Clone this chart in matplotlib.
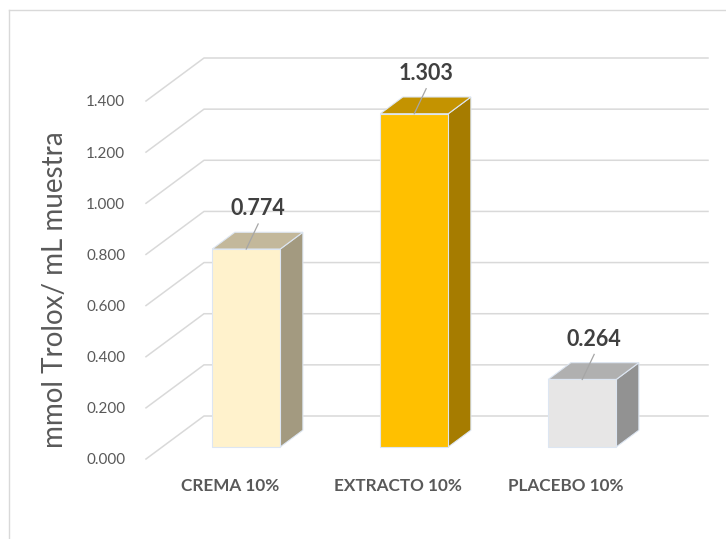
import matplotlib
matplotlib.use("Agg")
import matplotlib.pyplot as plt
from matplotlib.patches import Polygon, Rectangle
from matplotlib.lines import Line2D

# ---- data ----
categories = ["CREMA 10%", "EXTRACTO 10%", "PLACEBO 10%"]
values = [0.774, 1.303, 0.264]
value_labels = ["0.774", "1.303", "0.264"]
yticks = [0.0, 0.2, 0.4, 0.6, 0.8, 1.0, 1.2, 1.4]
ytick_labels = ["0.000", "0.200", "0.400", "0.600", "0.800", "1.000", "1.200", "1.400"]
ylabel = "mmol Trolox/ mL muestra"

front_colors = ["#FFF2CC", "#FFC000", "#E7E6E6"]
top_colors = ["#C3B89B", "#C49300", "#B0B0B0"]
side_colors = ["#A39A80", "#A67C00", "#929292"]

plt.rcParams['font.family'] = ['Lato', 'DejaVu Sans']

W, H = 726, 539
fig = plt.figure(figsize=(W / 100, H / 100), dpi=100)
fig.patch.set_facecolor("white")

# front plane of the 3D box in pixels
fx0, fx1 = 146, 650
fy0, fy1 = 459, 101
ax = fig.add_axes([fx0 / W, 1 - fy0 / H, (fx1 - fx0) / W, (fy0 - fy1) / H])
ax.set_xlim(-0.5, 2.5)
ax.set_ylim(0, 1.4)
for s in ax.spines.values():
    s.set_visible(False)
ax.patch.set_visible(False)

# depth offset (full depth) in data units
DX = 58 / ((fx1 - fx0) / 3.0)
DY = 43 / ((fy0 - fy1) / 1.4)
d0, d1 = 0.28, 0.67
bw = 0.405

grid_c = "#D9D9D9"
xl, xr = ax.get_xlim()
for t in yticks:
    ax.add_line(Line2D([xl, xl + DX, xr + DX], [t, t + DY, t + DY],
                       color=grid_c, lw=1.1, clip_on=False, zorder=1))

edge_c = "#DDE6F2"
for i, v in enumerate(values):
    a = i - bw / 2
    b = i + bw / 2
    ox0, oy0 = d0 * DX, d0 * DY
    ox1, oy1 = d1 * DX, d1 * DY
    side = Polygon([(b + ox0, oy0), (b + ox1, oy1), (b + ox1, v + oy1), (b + ox0, v + oy0)],
                   closed=True, facecolor=side_colors[i], edgecolor=edge_c, lw=0.8,
                   clip_on=False, zorder=3)
    top = Polygon([(a + ox0, v + oy0), (b + ox0, v + oy0), (b + ox1, v + oy1), (a + ox1, v + oy1)],
                  closed=True, facecolor=top_colors[i], edgecolor=edge_c, lw=0.8,
                  clip_on=False, zorder=3)
    front = Rectangle((a + ox0, oy0), bw, v, facecolor=front_colors[i], edgecolor=edge_c,
                      lw=0.8, clip_on=False, zorder=4)
    ax.add_patch(side)
    ax.add_patch(top)
    ax.add_patch(front)
    cx = i + ox0
    ty = v + oy0
    ax.add_line(Line2D([cx, cx + 0.071], [ty, ty + 0.098], color="#A6A6A6", lw=0.9,
                       clip_on=False, zorder=5))
    ax.text(cx + 0.068, ty + 0.158, value_labels[i], ha="center", va="center",
            fontsize=15.5, fontweight="bold", color="#404040", zorder=6)

ax.set_yticks(yticks)
ax.set_yticklabels(ytick_labels)
ax.set_xticks(range(len(categories)))
ax.set_xticklabels(categories, fontweight="bold")
ax.tick_params(axis="y", length=0, pad=15, labelsize=11, labelcolor="#595959")
ax.tick_params(axis="x", length=0, pad=14, labelsize=12.3, labelcolor="#595959")

fig.text(55 / W, 1 - 290 / H, ylabel, rotation=90, ha="center", va="center",
         fontsize=20, color="#595959")

# chart border
fig.add_artist(Line2D([9 / W, 9 / W], [0, 1 - 10 / H], color="#D9D9D9", lw=1.0,
                      transform=fig.transFigure))
fig.add_artist(Line2D([9 / W, 1], [1 - 10 / H, 1 - 10 / H], color="#D9D9D9", lw=1.0,
                      transform=fig.transFigure))

fig.savefig("out.png", dpi=100, facecolor="white")
